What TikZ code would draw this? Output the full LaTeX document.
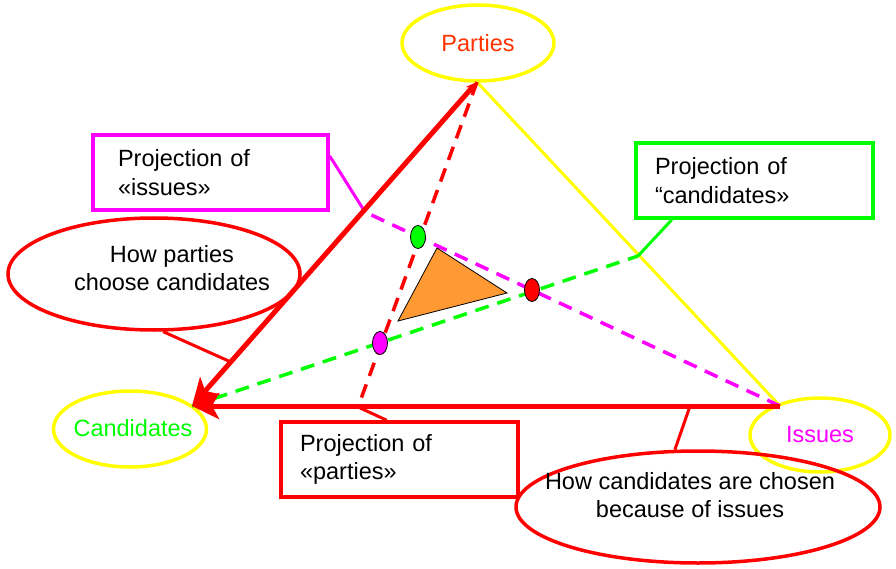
\documentclass[tikz,border=0pt]{standalone}
\usepackage{fontspec}
\setmainfont{Liberation Sans}
\usetikzlibrary{shapes.geometric,arrows.meta,calc}
\definecolor{cRed}{HTML}{FF0000}
\definecolor{cYel}{HTML}{FFFF00}
\definecolor{cGrn}{HTML}{00FF00}
\definecolor{cMag}{HTML}{FF00FF}
\definecolor{cOrR}{HTML}{FF3300}
\definecolor{cOra}{HTML}{FF9933}
\tikzset{
  txt/.style={font=\fontsize{23.5}{28.5}\selectfont},
  vertex/.style={ellipse, draw=cYel, line width=3.5pt, inner sep=0pt, txt},
  projbox/.style={rectangle, line width=3.5pt, minimum height=75pt, align=left, txt},
  noteell/.style={ellipse, draw=cRed, line width=3.5pt, inner sep=0pt},
  dashln/.style={line width=3.5pt, dash pattern=on 14pt off 9pt},
  conn/.style={line width=3pt},
  bigarrow/.style={draw=cRed, line width=5pt, -{Stealth[length=27pt,width=26pt,inset=7pt]}},
  dot/.style={ellipse, draw=black, line width=0.8pt, minimum width=15pt, minimum height=23pt, inner sep=0pt}
}
\begin{document}
\begin{tikzpicture}[x=1pt,y=-1pt]
\useasboundingbox (0,0) rectangle (896,569);
% corners
\coordinate (P) at (477,82);
\coordinate (C) at (192,406);
\coordinate (I) at (780,406);
\coordinate (M) at (365,212);
\coordinate (G) at (638,256);
\coordinate (R) at (358,407);
% label nodes
\node[vertex, minimum width=152pt, minimum height=76pt, text=cOrR] (parties) at (478,43) {Parties};
\node[vertex, minimum width=153pt, minimum height=76pt] (cand) at (130,429) {};
\node[txt, text=cGrn] (candtxt) at (133,428) {Candidates};
\node[vertex, minimum width=140pt, minimum height=74pt, text=cMag] (issues) at (820,435) {Issues};
\node[projbox, draw=cMag, text width=185pt, inner xsep=25pt] (mbox) at (210.5,172.5) {Projection of\\«issues»};
\node[projbox, draw=cGrn, text width=199pt, inner xsep=19pt] (gbox) at (754.5,180.5) {Projection of\\“candidates»};
\node[projbox, draw=cRed, text width=199pt, inner xsep=19pt] (rbox) at (399.5,459.5) {Projection of\\«parties»};
\node[noteell, minimum width=292pt, minimum height=112pt] (hp) at (154,274) {};
\node[txt, align=center] (hptxt) at (172,268) {How parties\\choose candidates};
\node[noteell, minimum width=364pt, minimum height=112pt] (hc) at (698,507) {};
\node[txt, align=center] (hctxt) at (690,495) {How candidates are chosen\\because of issues};
% triangle side
\draw[cYel, line width=3pt] (P) -- (I);
% dashed projections
\draw[cRed, dashln] (P) -- (R);
\draw[cGrn, dashln] (C) -- (G);
\draw[cMag, dashln] (I) -- (M);
% connectors
\draw[cMag, conn] ($(mbox.north east)!0.29!(mbox.south east)$) -- (M);
\draw[cGrn, conn] ($(gbox.south west)!0.156!(gbox.south east)$) -- (G);
\draw[cRed, conn] ($(rbox.north west)!0.447!(rbox.north east)$) -- (R);
\draw[cRed, conn] (hp.-81) -- ($(P)!0.864!(C)$);
\draw[cRed, conn] (hc.112) -- ($(I)!0.153!(C)$);
% thick arrows
\draw[bigarrow, {Stealth[length=11pt,width=10pt,inset=3pt]}-{Stealth[length=27pt,width=26pt,inset=7pt]}] (P) -- (C);
\draw[bigarrow] (I) -- (C);
% inner triangle
\draw[fill=cOra, line width=0.8pt, line join=miter] (437,248) -- (507,293) -- (398,321) -- cycle;
% dots
\node[dot, fill=cGrn] (dg) at (418,237) {};
\node[dot, fill=cRed] (dr) at (532,290) {};
\node[dot, fill=cMag] (dm) at (380,343) {};
\end{tikzpicture}
\end{document}
